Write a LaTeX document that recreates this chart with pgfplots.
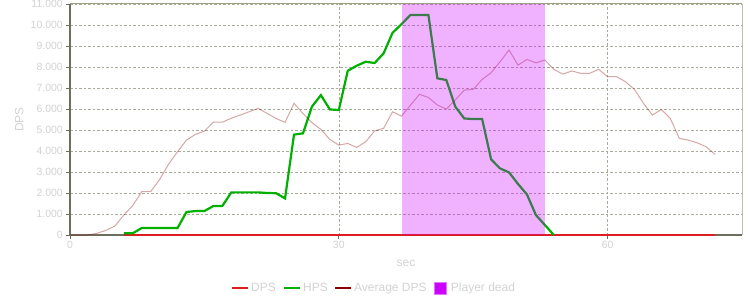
\documentclass[border=0pt]{standalone}
\usepackage{pgfplots}
\pgfplotsset{compat=1.18}
\usepackage{fontspec}
\setmainfont{Liberation Sans}
\definecolor{dpsred}{RGB}{220,30,30}
\definecolor{hpsgreen}{RGB}{0,176,0}
\definecolor{avgred}{RGB}{139,0,0}
\definecolor{band}{RGB}{204,0,255}
\definecolor{axdark}{RGB}{110,110,95}
\definecolor{axtop}{RGB}{160,160,130}
\definecolor{axright}{RGB}{190,190,175}
\definecolor{gridc}{RGB}{170,170,155}
\definecolor{txt}{RGB}{210,210,210}
\begin{document}
\begin{tikzpicture}
\useasboundingbox (0pt,0pt) rectangle (750pt,300pt);
\begin{axis}[
  at={(70pt,65pt)}, anchor=south west,
  scale only axis, width=672pt, height=231pt,
  xmin=0, xmax=75, ymin=0, ymax=11000,
  xtick={0,30,60}, ytick={0,1000,...,11000},
  axis x line*=bottom, axis y line*=left,
  axis line style={-, draw=axdark, line width=1.1pt},
  tick align=outside, major tick length=4pt,
  tick style={axdark, line width=0.8pt},
  grid=major,
  major grid style={dash pattern=on 2.5pt off 2pt, color=gridc, line width=0.6pt},
  scaled ticks=false,
  /pgf/number format/.cd, fixed, precision=0, 1000 sep={.}, assume math mode=true,
  /pgfplots/.cd,
  ticklabel style={font=\fontsize{10.5}{12}\selectfont, text=txt},
  yticklabel style={anchor=east, inner sep=0pt, xshift=-3pt},
  xticklabel style={anchor=north, inner sep=0pt, yshift=-2pt},
  xlabel={sec}, ylabel={DPS},
  label style={font=\fontsize{12}{14}\selectfont, text=txt},
  xlabel style={at={(axis description cs:0.5,0)}, anchor=base, yshift=-31pt},
  ylabel style={at={(axis description cs:-0.0695,0.5)}, anchor=base},
  clip=false,
  legend columns=4,
  legend style={at={(axis description cs:0.4524,-0.2294)}, anchor=center, draw=none, fill=none,
    font=\fontsize{12}{14}\selectfont, text=txt,
    /tikz/every even column/.append style={column sep=5pt},
    nodes={inner sep=2pt}},
]
\addplot[dpsred, line width=2pt, legend image code/.code={\draw[dpsred, line width=2.2pt] (0pt,0pt) -- (16pt,0pt);}]
 coordinates {(6,0) (72,0)};
\addlegendentry{DPS}
\addplot[hpsgreen, line width=2.2pt, legend image code/.code={\draw[hpsgreen, line width=2.2pt] (0pt,0pt) -- (16pt,0pt);}]
 coordinates {(6,80) (7,80) (8,330) (9,330) (10,330) (11,330) (12,330) (13,1095) (14,1140) (15,1140) (16,1380) (17,1380) (18,2030) (19,2030) (20,2030) (21,2030) (22,2000) (23,1990) (24,1740) (25,4780) (26,4840) (27,6110) (28,6660) (29,5980) (30,5950) (31,7820) (32,8060) (33,8250) (34,8190) (35,8650) (36,9630) (37,10040) (38,10480) (39,10480) (40,10480) (41,7460) (42,7380) (43,6110) (44,5550) (45,5520) (46,5520) (47,3600) (48,3170) (49,2980) (50,2430) (51,1930) (52,950) (53,476) (54,0)};
\addlegendentry{HPS}
\addplot[avgred, opacity=0.35, line width=1pt, legend image code/.code={\draw[avgred, opacity=1, draw opacity=1, line width=1.4pt] (0pt,0pt) -- (16pt,0pt);}]
 coordinates {(0,0) (1,0) (2,0) (3,80) (4,220) (5,420) (6,950) (7,1400) (8,2060) (9,2060) (10,2640) (11,3370) (12,3970) (13,4520) (14,4790) (15,4950) (16,5370) (17,5370) (18,5560) (19,5710) (20,5870) (21,6030) (22,5790) (23,5550) (24,5360) (25,6270) (26,5790) (27,5350) (28,5030) (29,4550) (30,4280) (31,4360) (32,4170) (33,4440) (34,4960) (35,5080) (36,5870) (37,5660) (38,6180) (39,6700) (40,6550) (41,6190) (42,6000) (43,6430) (44,6900) (45,6930) (46,7410) (47,7730) (48,8250) (49,8810) (50,8090) (51,8360) (52,8200) (53,8330) (54,7890) (55,7660) (56,7810) (57,7700) (58,7700) (59,7890) (60,7540) (61,7540) (62,7300) (63,6930) (64,6270) (65,5710) (66,5980) (67,5550) (68,4600) (69,4520) (70,4390) (71,4200) (72,3840)};
\addlegendentry{Average DPS}
\addplot[fill=band, fill opacity=0.3, draw=none, legend image code/.code={\draw[fill=band, draw=band!55, opacity=1, fill opacity=1, draw opacity=1, line width=0.8pt] (0pt,-6pt) rectangle (12pt,6pt);}]
 coordinates {(37,0) (37,11000) (53,11000) (53,0)} -- cycle;
\addlegendentry{\hspace{2.5pt}Player dead}
\draw[axtop, line width=1pt] (rel axis cs:0,1) -- (rel axis cs:1,1);
\draw[axright, line width=1pt] (rel axis cs:1,0) -- (rel axis cs:1,1);
\end{axis}
\end{tikzpicture}
\end{document}
